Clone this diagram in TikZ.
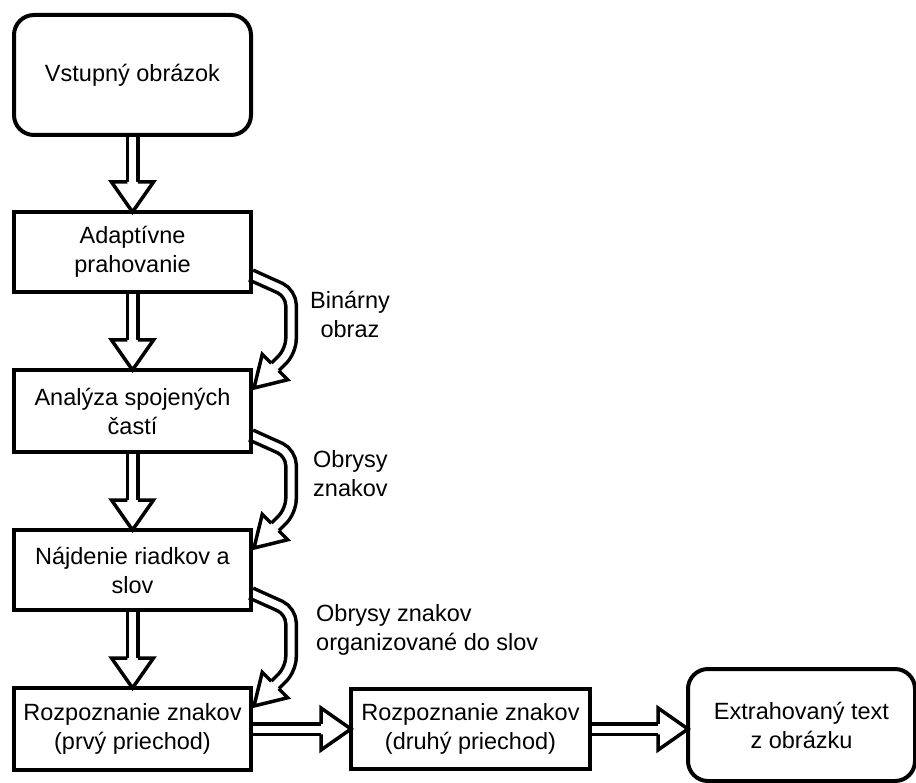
\documentclass[tikz,border=0pt]{standalone}
\usepackage{fontspec}
\setmainfont{Liberation Sans}
\usetikzlibrary{positioning,calc,backgrounds}

\tikzset{
  box/.style={draw, line width=4pt, minimum width=237pt, minimum height=80pt,
    align=center, inner sep=0pt, outer sep=0pt},
  roundbox/.style={box, rounded corners=20pt},
  shaft/.style={line width=3.5pt, double=white, double distance=7pt},
  head/.style={line width=3.5pt, fill=white, line join=miter},
  note/.style={inner sep=0pt}
}

% hollow head: base, tip, half width
\newcommand{\hollowhead}[3]{%
  \filldraw[head] ($(#1)!5.25pt!90:(#2)$) -- ($(#1)!#3!90:(#2)$) -- (#2)
    -- ($(#1)!#3!-90:(#2)$) -- ($(#1)!5.25pt!-90:(#2)$);
}
% straight double arrow: from, to
\newcommand{\flowarrow}[2]{%
  \coordinate (fa-b) at ($(#2)!30pt!(#1)$);
  \draw[shaft] (#1) -- (fa-b);
  \hollowhead{fa-b}{#2}{21pt}
}
% bent double arrow on the right side: start, tip
\newcommand{\sidearrow}[2]{%
  \draw[shaft, rounded corners=12pt] (#1) -- ++(40,18) coordinate (sa-a)
    -- ($(sa-a |- #2)+(0,-37)$) -- ($(#2)+(21,-21)$) coordinate (sa-b);
  \hollowhead{sa-b}{#2}{18pt}
}

\begin{document}
\begin{tikzpicture}[x=1pt, y=-1pt, font=\fontsize{23.5pt}{29pt}\selectfont]
  \useasboundingbox (0,0) rectangle (916,783);
  % Bloky
  \node[roundbox, minimum height=120pt] (vstup) at (132.5,75) {Vstupný obrázok};
  \node[box, below=77pt of vstup] (prah) {Adaptívne\\prahovanie};
  \node[box, below=78pt of prah, minimum height=82pt] (analyza) {Analýza spojených\\častí};
  \node[box, below=78pt of analyza] (riadky) {Nájdenie riadkov a\\slov};
  \node[box, below=78pt of riadky, minimum height=82pt] (prvy) {Rozpoznanie znakov\\(prvý priechod)};
  \node[box, right=100pt of prvy, minimum width=239pt] (druhy) {Rozpoznanie znakov\\(druhý priechod)};
  \node[roundbox, right=98pt of druhy, minimum width=227pt, minimum height=112pt,
    yshift=4pt] (vystup) {Extrahovaný text\\z obrázku};
  % Body bocnych sipok
  \coordinate (z1) at ($(prah.south east)+(0,-17)$);
  \coordinate (k1) at ($(analyza.north east)+(3,18)$);
  \coordinate (z2) at ($(analyza.south east)+(0,-17)$);
  \coordinate (k2) at ($(riadky.north east)+(3,18)$);
  \coordinate (z3) at ($(riadky.south east)+(0,-17)$);
  \coordinate (k3) at ($(prvy.north east)+(3,18)$);
  \coordinate (vystup-in) at (vystup.west |- druhy.east);
  % Popisy
  \node[note, align=center] (binar) at ($(z1)+(99,39)$) {Binárny\\obraz};
  \node[note, align=left, anchor=west] (obrysy) at ($(z2)+(62,39)$) {Obrysy\\znakov};
  \node[note, align=left, anchor=west] (slova) at ($(z3)+(65,37)$) {Obrysy znakov\\organizované do slov};
  % Sipky
  \begin{scope}[on background layer]
    \flowarrow{vstup.south}{prah.north}
    \flowarrow{prah.south}{analyza.north}
    \flowarrow{analyza.south}{riadky.north}
    \flowarrow{riadky.south}{prvy.north}
    \flowarrow{prvy.east}{druhy.west}
    \flowarrow{druhy.east}{vystup-in}
    \sidearrow{z1}{k1}
    \sidearrow{z2}{k2}
    \sidearrow{z3}{k3}
  \end{scope}
\end{tikzpicture}
\end{document}
